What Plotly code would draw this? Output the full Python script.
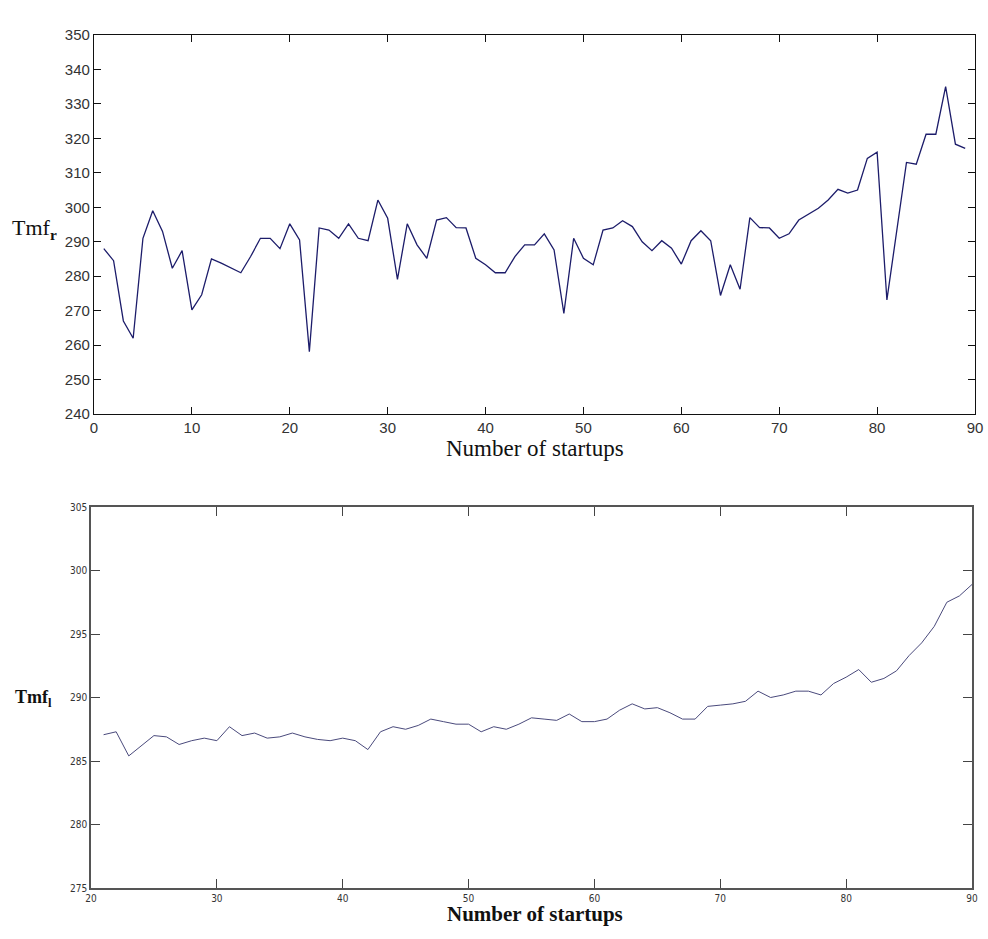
import plotly.graph_objects as go

# Top chart: Tmf_r vs number of startups
top_x = list(range(1, 90))
top_y = [288, 284.5, 267, 262, 291, 299, 293, 282.3, 287.4, 270.2,
         274.6, 285, 283.8, 282.5, 281, 285.7, 291, 291, 288, 295.2,
         290.5, 258.1, 294, 293.4, 291, 295.2, 291, 290.3, 302.1, 296.8,
         279.1, 295.2, 289.1, 285.2, 296.3, 297, 294.1, 294, 285.2, 283.3,
         281, 281, 285.7, 289.1, 289.1, 292.3, 287.6, 269.2, 291, 285.2,
         283.3, 293.4, 294, 296.1, 294.4, 290, 287.4, 290.3, 288.1, 283.5,
         290.3, 293.2, 290.3, 274.4, 283.3, 276.2, 297, 294.1, 294, 291,
         292.3, 296.3, 298, 299.7, 302.1, 305.2, 304.1, 305, 314.2, 316,
         273.1, 293.4, 313, 312.5, 321.2, 321.2, 335, 318.3, 317.1]

# Bottom chart: Tmf_l vs number of startups
bot_x = list(range(21, 91))
bot_y = [287.07, 287.3, 285.4, 286.2, 287.0, 286.9, 286.3, 286.6, 286.8, 286.6,
         287.7, 287.0, 287.2, 286.8, 286.9, 287.2, 286.9, 286.7, 286.6, 286.8,
         286.6, 285.9, 287.3, 287.7, 287.5, 287.8, 288.3, 288.1, 287.9, 287.9,
         287.3, 287.7, 287.5, 287.9, 288.4, 288.3, 288.2, 288.7, 288.1, 288.1,
         288.3, 289.0, 289.5, 289.1, 289.2, 288.8, 288.3, 288.3, 289.3, 289.4,
         289.5, 289.7, 290.5, 290.0, 290.2, 290.5, 290.5, 290.2, 291.1, 291.6,
         292.2, 291.2, 291.5, 292.1, 293.3, 294.3, 295.6, 297.5, 298.0, 298.9]

top_xticks = list(range(0, 91, 10))
top_yticks = list(range(240, 351, 10))
bot_xticks = list(range(20, 91, 10))
bot_yticks = list(range(275, 306, 5))

W, H = 988, 939

fig = go.Figure()
fig.add_trace(go.Scatter(x=top_x, y=top_y, mode="lines",
                         line=dict(color="#1c1c6a", width=1.3),
                         xaxis="x", yaxis="y", showlegend=False))
fig.add_trace(go.Scatter(x=bot_x, y=bot_y, mode="lines",
                         line=dict(color="#4a4a7c", width=1),
                         xaxis="x2", yaxis="y2", showlegend=False))

top_tick_font = dict(family="Liberation Sans, Arial", size=15, color="#333")
bot_tick_font = dict(family="Liberation Sans Narrow, DejaVu Sans Condensed, Arial", size=10, color="#333")

serif = "Liberation Serif, Times New Roman"

fig.update_layout(
    width=W, height=H,
    margin=dict(l=0, r=0, t=0, b=0),
    paper_bgcolor="white", plot_bgcolor="white",
    xaxis=dict(domain=[94 / W, 975 / W], anchor="y", range=[0, 90], automargin=False,
               tickvals=top_xticks, ticks="inside", ticklen=7, tickcolor="#111",
               showline=True, linecolor="#111", linewidth=1.2, mirror="ticks",
               showgrid=False, zeroline=False, tickfont=top_tick_font),
    yaxis=dict(domain=[1 - 414 / H, 1 - 35 / H], anchor="x", range=[240, 350], automargin=False,
               tickvals=top_yticks, ticks="inside", ticklen=7, tickcolor="#111",
               showline=True, linecolor="#111", linewidth=1.2, mirror="ticks",
               showgrid=False, zeroline=False, tickfont=top_tick_font),
    xaxis2=dict(domain=[91 / W, 972 / W], anchor="y2", range=[20, 90], automargin=False,
                tickvals=bot_xticks, ticks="inside", ticklen=9, tickcolor="#444",
                showline=True, linecolor="#555", linewidth=1.5, mirror="ticks",
                showgrid=False, zeroline=False, tickfont=bot_tick_font),
    yaxis2=dict(domain=[1 - 888 / H, 1 - 507 / H], anchor="x2", range=[275, 305], automargin=False,
                tickvals=bot_yticks, ticks="inside", ticklen=9, tickcolor="#444",
                showline=True, linecolor="#555", linewidth=1.5, mirror="ticks",
                showgrid=False, zeroline=False, tickfont=bot_tick_font),
    annotations=[
        dict(text="Number of startups", x=535 / W, y=1 - 449 / H,
             xref="paper", yref="paper", showarrow=False,
             xanchor="center", yanchor="middle",
             font=dict(family=serif, size=23, color="#111")),
        dict(text="Tmf<sub><b>r</b></sub>", x=34 / W, y=1 - 229 / H,
             xref="paper", yref="paper", showarrow=False,
             xanchor="center", yanchor="middle",
             font=dict(family=serif, size=22, color="#111")),
        dict(text="<b>Number of startups</b>", x=535 / W, y=1 - 914 / H,
             xref="paper", yref="paper", showarrow=False,
             xanchor="center", yanchor="middle",
             font=dict(family=serif, size=21, color="#111")),
        dict(text="<b>Tmf<sub>l</sub></b>", x=33 / W, y=1 - 698 / H,
             xref="paper", yref="paper", showarrow=False,
             xanchor="center", yanchor="middle",
             font=dict(family=serif, size=18, color="#111")),
    ],
)

fig.write_html("out.html", config={"displayModeBar": False},
               post_script="document.body.style.margin='0';document.body.style.overflow='hidden';")
